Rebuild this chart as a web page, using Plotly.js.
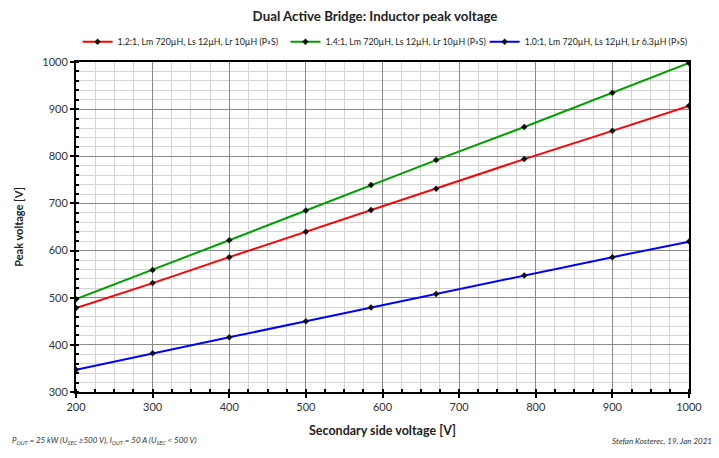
<!DOCTYPE html>
<html>
<head>
<meta charset="utf-8">
<script src="https://cdn.plot.ly/plotly-3.0.1.min.js"></script>
<style>
  html, body { margin: 0; padding: 0; background: #fff; }
  #graph { width: 719px; height: 458px; }
</style>
</head>
<body>
<div id="graph"></div>
<script>
/* ----- Data ------------------------------ */
var secondaryVoltage = [200, 300, 400, 500, 585, 670, 785, 900, 1000];

var peak12 = [478, 531, 586, 640, 686, 731, 794, 854, 907];   // 1.2:1
var peak14 = [497, 559, 622, 685, 739, 792, 862, 935, 998];   // 1.4:1
var peak10 = [347, 382, 416, 450, 479, 508, 547, 586, 619];   // 1.0:1

var seriesNames = [
    '1.2:1, Lm 720µH, Ls 12µH, Lr 10µH (P»S)',
    '1.4:1, Lm 720µH, Ls 12µH, Lr 10µH (P»S)',
    '1.0:1, Lm 720µH, Ls 12µH, Lr 6.3µH (P»S)'
];
var seriesColors = ['rgb(255, 0, 0)', 'rgb(0, 160, 0)', 'rgb(0, 0, 255)'];
var legendIds = ['legend', 'legend2', 'legend3'];

/* ----- Traces ------- */
function makeTrace(yValues, idx) {
    return {
        x: secondaryVoltage,
        y: yValues,
        name: seriesNames[idx],
        legend: legendIds[idx],
        mode: 'lines+markers',
        line: {color: seriesColors[idx], width: 2},
        marker: {symbol: 'diamond', size: 5, color: '#111'}
    };
}

var data = [
    makeTrace(peak12, 0),
    makeTrace(peak14, 1),
    makeTrace(peak10, 2)
];

var font = 'Lato, "Open Sans", sans-serif';

// one legend box per series so the row stays on one line
function legendAt(xPos) {
    return {
        x: xPos, xanchor: 'left',
        y: 1.061, yanchor: 'middle',
        font: {size: 8.8, color: '#222'},
        bgcolor: 'rgba(0,0,0,0)',
        itemwidth: 30
    };
}

var layout = {
    width: 719,
    height: 458,
    paper_bgcolor: '#fff',
    plot_bgcolor: '#fff',
    font: {family: font, color: '#333'},
    margin: {l: 76, r: 30, t: 62, b: 66, autoexpand: false},
    title: {
        text: '<b>Dual Active Bridge: Inductor peak voltage</b>',
        font: {size: 13.3, color: '#222', family: font},
        x: 0.5216, xanchor: 'center',
        y: 0.965, yanchor: 'middle'
    },
    showlegend: true,
    legend: legendAt(0.0026),
    legend2: legendAt(0.3417),
    legend3: legendAt(0.6666),
    xaxis: {
        range: [200, 1000],
        autorange: false,
        dtick: 100,
        tick0: 200,
        showgrid: true,
        gridcolor: '#8a8a8a',
        gridwidth: 1,
        zeroline: false,
        showline: true,
        linecolor: '#000',
        linewidth: 2,
        mirror: true,
        ticks: 'outside',
        ticklen: 4,
        tickwidth: 2,
        tickcolor: '#000',
        tickfont: {size: 11, color: '#333'},
        minor: {dtick: 25, showgrid: true, gridcolor: '#d4d4d4', gridwidth: 1,
                ticks: 'inside', ticklen: 3, tickcolor: '#000', tickwidth: 2},
        title: {text: '<b>Secondary side voltage [V]</b>', font: {size: 12.5, color: '#222'}, standoff: 14}
    },
    yaxis: {
        range: [300, 1000],
        autorange: false,
        dtick: 100,
        showgrid: true,
        gridcolor: '#8a8a8a',
        gridwidth: 1,
        zeroline: false,
        showline: true,
        linecolor: '#000',
        linewidth: 2,
        mirror: true,
        ticks: 'outside',
        ticklen: 4,
        tickwidth: 2,
        tickcolor: '#000',
        tickfont: {size: 11, color: '#333'},
        minor: {dtick: 20, showgrid: true, gridcolor: '#d4d4d4', gridwidth: 1,
                ticks: 'inside', ticklen: 3, tickcolor: '#000', tickwidth: 2},
        title: {text: '<b>Peak voltage [V]</b>', font: {size: 11, color: '#222'}, standoff: 16}
    },
    annotations: [
        {
            text: '<i>P<sub>OUT</sub> = 25 kW (U<sub>SEC</sub> ≥500 V), I<sub>OUT</sub> = 50 A (U<sub>SEC</sub> &lt; 500 V)</i>',
            xref: 'paper', yref: 'paper',
            x: -0.108, xanchor: 'left',
            y: -0.148, yanchor: 'middle',
            showarrow: false,
            font: {size: 8, color: '#333'}
        },
        {
            text: '<i>Stefan Kosterec, 19. Jan 2021</i>',
            xref: 'paper', yref: 'paper',
            x: 1.04, xanchor: 'right',
            y: -0.148, yanchor: 'middle',
            showarrow: false,
            font: {size: 8, color: '#333'}
        }
    ]
};

var graph = document.getElementById('graph');
Plotly.newPlot(graph, data, layout, {staticPlot: true, displayModeBar: false});
</script>
</body>
</html>
